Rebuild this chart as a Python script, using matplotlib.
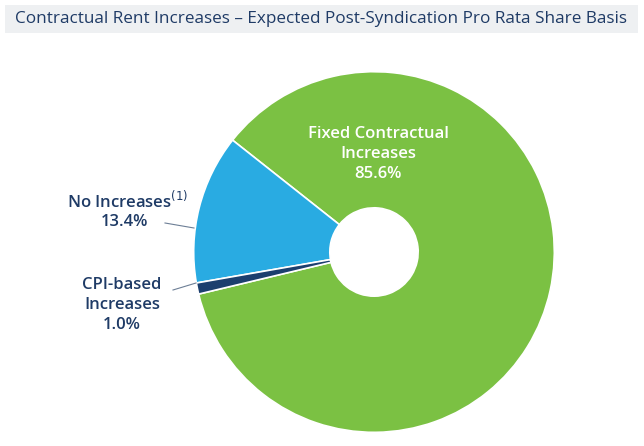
import matplotlib
matplotlib.use("Agg")
import matplotlib.pyplot as plt
from matplotlib.patches import FancyBboxPatch

categories = ["Fixed Contractual Increases", "No Increases", "CPI-based Increases"]
values = [85.6, 13.4, 1.0]
colors = ["#7bc143", "#29abe2", "#1c3f6e"]
title = "Contractual Rent Increases \u2013 Expected Post-Syndication Pro Rata Share Basis"

plt.rcParams['font.family'] = ['Open Sans', 'DejaVu Sans']
W, H = 644, 446
fig = plt.figure(figsize=(W/100, H/100), dpi=100)
fig.patch.set_facecolor("white")

# title box
box = FancyBboxPatch((5/W, 1-33/H), 633/W, 28/H, boxstyle="square,pad=0",
                     transform=fig.transFigure, facecolor="#eef0f2", edgecolor="none")
fig.patches.append(box)
fig.text(15/W, 1-19/H, title, fontsize=12.3, color="#1f3b66", va="center", ha="left")

cx, cy, r = 374, 252, 184
ax = fig.add_axes([(cx-r)/W, (H-cy-r)/H, 2*r/W, 2*r/H])
ax.axis("off")
wedges, _ = ax.pie(values, colors=colors, startangle=193.5, counterclock=True, radius=0.98,
                   wedgeprops=dict(width=0.98*0.755, edgecolor="white", linewidth=1.2))
ax.set_xlim(-1, 1); ax.set_ylim(-1, 1)
ax.set_aspect("equal")

txtc = "#1f3b66"
fig.text(378/W, 1-154/H, "Fixed Contractual\nIncreases\n85.6%", fontsize=12, color="white",
         ha="center", va="center", linespacing=1.3, fontweight="semibold")
fig.text(128/W, 1-201/H, "No Increases$^{(1)}$", fontsize=12, color=txtc, ha="center", va="center",
         fontweight="semibold")
fig.text(124/W, 1-222/H, "13.4%", fontsize=12, color=txtc, ha="center", va="center",
         fontweight="semibold")
fig.text(122/W, 1-305/H, "CPI-based\nIncreases\n1.0%", fontsize=12, color=txtc, ha="center",
         va="center", linespacing=1.3, fontweight="semibold")

fig.add_artist(plt.Line2D([165/W, 194/W], [1-223/H, 1-228/H], color="#6d7f96", lw=0.8))
fig.add_artist(plt.Line2D([173/W, 196/W], [1-290/H, 1-283/H], color="#6d7f96", lw=0.8))

fig.savefig("out.png", dpi=100)
